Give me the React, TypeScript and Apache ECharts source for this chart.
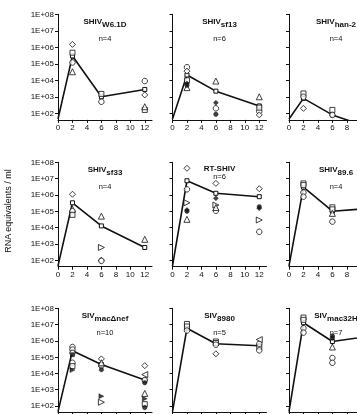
import React, { useEffect, useRef } from "react";
import * as echarts from "echarts";

// Sampling weeks post infection and axis ticks
const WEEKS = [0, 2, 6, 12];
const X_TICKS = [0, 2, 4, 6, 8, 10, 12];
const Y_TICKS = [2, 3, 4, 5, 6, 7, 8]; // log10 of 1E+02 ... 1E+08
const LOG_MIN = 1.6;
const LOG_MAX = 8;
const X_MAX = 13;

// Panel titles (row by row)
const STRAIN = ["SHIV", "SHIV", "SHIV", "SHIV", "RT-SHIV", "SHIV", "SIV", "SIV", "SIV"];
const SUBSCRIPT = ["W6.1D", "sf13", "han-2", "sf33", "", "89.6", "mac\u0394nef", "8980", "mac32H"];
const GROUP_N = [4, 6, 4, 4, 6, 4, 10, 5, 7];

// Group means (RNA equivalents / ml) at weeks 0, 2, 6, 12
const MEAN_W61D = [45, 3.0e5, 1.0e3, 2.8e3];
const MEAN_SF13 = [45, 2.1e4, 2.2e3, 2.8e2];
const MEAN_HAN2 = [45, 8e2, 80, 10];
const MEAN_SF33 = [45, 3.3e5, 1.26e4, 6e2];
const MEAN_RT = [45, 7.4e6, 1.26e6, 7.8e5];
const MEAN_896 = [45, 3e6, 1e5, 1.6e5];
const MEAN_NEF = [45, 2.5e5, 3.5e4, 3.9e3];
const MEAN_8980 = [45, 6e6, 6.6e5, 5e5];
const MEAN_32H = [45, 1.3e7, 9.1e5, 2.2e6];

type Marker =
  | "circle" | "square" | "diamond" | "triangle" | "rightTri" | "leftTri"
  | "dot" | "solidDiamond" | "solidRightTri" | "solidSquare";
type Pts = Partial<Record<Marker, number[][]>>;

// Individual animals: [week, RNA equivalents / ml]
const PTS_W61D: Pts = {
  diamond: [[2, 1.5e6], [12, 1.3e3]],
  square: [[2, 4.7e5], [6, 1.5e3], [12, 1.6e2]],
  circle: [[2, 1.2e5], [6, 5e2], [12, 9e3]],
  triangle: [[2, 3.3e4], [12, 2.5e2]],
};
const PTS_SF13: Pts = {
  circle: [[2, 6.2e4], [6, 2e2], [12, 1.3e2]],
  diamond: [[2, 3.6e4], [12, 80]],
  square: [[2, 1e4], [12, 2.2e2]],
  triangle: [[2, 3.6e3], [6, 9e3], [12, 1e3]],
  dot: [[2, 5e3], [6, 87]],
  solidDiamond: [[2, 6.5e3], [6, 4.4e2]],
};
const PTS_HAN2: Pts = {
  square: [[2, 1.6e3], [6, 1.6e2]],
  circle: [[2, 1e3], [6, 80]],
  diamond: [[2, 2e2]],
};
const PTS_SF33: Pts = {
  diamond: [[2, 1.1e6], [6, 1e2]],
  triangle: [[2, 1.35e5], [6, 5e4], [12, 1.9e3]],
  circle: [[2, 1e5], [6, 90]],
  square: [[2, 6e4]],
  rightTri: [[6, 6e2]],
};
const PTS_RT: Pts = {
  diamond: [[2, 4.3e7], [6, 5.1e6], [12, 2.4e6]],
  circle: [[2, 2.2e6], [6, 1.07e5], [12, 5.5e3]],
  rightTri: [[2, 3.3e5], [6, 2.4e5], [12, 2.9e4]],
  triangle: [[2, 3.2e4], [6, 1.7e5]],
  dot: [[2, 1e5], [12, 1.9e5]],
  solidDiamond: [[2, 1.2e5], [6, 6.2e5], [12, 1.5e5]],
};
const PTS_896: Pts = {
  square: [[2, 5.1e6], [2, 4e6], [6, 1.74e5], [6, 1.3e5]],
  circle: [[2, 1.4e6], [2, 7.8e5], [6, 2.3e4]],
  triangle: [[6, 7.4e4]],
};
const PTS_NEF: Pts = {
  circle: [[2, 4.2e5], [2, 2.9e5], [2, 1.8e5], [2, 4.5e4], [6, 3e4], [12, 3.9e3]],
  solidSquare: [[2, 1.4e5]],
  square: [[2, 2.8e4], [12, 1.3e2]],
  solidRightTri: [[2, 1.6e4], [6, 4e2], [12, 2.8e2]],
  diamond: [[6, 7.8e4], [12, 3e4]],
  triangle: [[6, 4.5e4], [12, 5.9e2]],
  dot: [[6, 1.7e4], [12, 2.7e3], [12, 80]],
  rightTri: [[6, 1.7e2]],
  leftTri: [[12, 8.5e3]],
};
const PTS_8980: Pts = {
  square: [[2, 1.1e7], [2, 7.6e6], [6, 9.1e5], [6, 7.4e5], [12, 4.2e5]],
  circle: [[2, 4.3e6], [6, 5.8e5], [12, 6.6e5], [12, 2.6e5]],
  diamond: [[6, 1.6e5]],
  leftTri: [[12, 1.2e6]],
};
const PTS_32H: Pts = {
  square: [[2, 2.7e7], [2, 1.95e7]],
  circle: [[2, 6e6], [2, 3.2e6], [6, 8.9e4], [6, 4.5e4]],
  dot: [[6, 2e6], [6, 1.5e6]],
  triangle: [[6, 4.2e5]],
};

const MEANS = [MEAN_W61D, MEAN_SF13, MEAN_HAN2, MEAN_SF33, MEAN_RT, MEAN_896, MEAN_NEF, MEAN_8980, MEAN_32H];
const POINTS = [PTS_W61D, PTS_SF13, PTS_HAN2, PTS_SF33, PTS_RT, PTS_896, PTS_NEF, PTS_8980, PTS_32H];

const INK = "#111";
const FONT = "'Liberation Sans', Arial, Helvetica, sans-serif";

const MARKERS: Record<Marker, { symbol: string; size: number; rotate?: number; filled?: boolean }> = {
  circle: { symbol: "circle", size: 5.5 },
  square: { symbol: "rect", size: 5 },
  diamond: { symbol: "diamond", size: 6 },
  triangle: { symbol: "triangle", size: 6 },
  rightTri: { symbol: "triangle", size: 6, rotate: -90 },
  leftTri: { symbol: "triangle", size: 6, rotate: 90 },
  dot: { symbol: "circle", size: 4.5, filled: true },
  solidDiamond: { symbol: "diamond", size: 5, filled: true },
  solidRightTri: { symbol: "triangle", size: 5, rotate: -90, filled: true },
  solidSquare: { symbol: "rect", size: 4, filled: true },
};

// Panel layout
const COL_LEFT = [58, 172.5, 289];
const ROW_TOP = [14.3, 162.3, 308.3];
const ROW_H = [105.6, 104.4, 104.2];
const PANEL_W = 94;
const VIEW_W = 357;
const VIEW_H = 414;

function buildOption() {
  const grid: any[] = [];
  const xAxis: any[] = [];
  const yAxis: any[] = [];
  const title: any[] = [];
  const series: any[] = [];

  for (let i = 0; i < 9; i++) {
    const r = Math.floor(i / 3);
    const c = i % 3;
    const left = COL_LEFT[c];
    const top = ROW_TOP[r];
    const height = ROW_H[r];
    const pxPerWeek = PANEL_W / X_MAX;
    // tick labels that fall inside the visible area
    const xLabels = X_TICKS.filter((t) => left + t * pxPerWeek + 4 < VIEW_W);
    const xLabelsVisible = top + height + 12 < VIEW_H;

    grid.push({ left, top, width: PANEL_W, height, containLabel: false, outerBoundsMode: "none" });

    xAxis.push({
      type: "value",
      gridIndex: i,
      min: 0,
      max: X_MAX,
      axisLine: { show: true, lineStyle: { color: INK, width: 1 } },
      axisTick: { show: true, length: 3, customValues: X_TICKS, lineStyle: { color: INK } },
      axisLabel: {
        show: xLabelsVisible,
        customValues: xLabels,
        margin: 4,
        fontSize: 8,
        color: INK,
        fontFamily: FONT,
      },
      splitLine: { show: false },
    });
    yAxis.push({
      type: "value",
      gridIndex: i,
      min: LOG_MIN,
      max: LOG_MAX,
      axisLine: { show: true, lineStyle: { color: INK, width: 1 } },
      axisTick: { show: true, length: 3, customValues: Y_TICKS, lineStyle: { color: INK } },
      axisLabel: {
        show: c === 0,
        customValues: Y_TICKS,
        margin: 4,
        fontSize: 8,
        color: INK,
        fontFamily: FONT,
        formatter: (v: number) => "1E+" + String(Math.round(v)).padStart(2, "0"),
      },
      splitLine: { show: false },
    });

    const sub = SUBSCRIPT[i];
    title.push({
      left: left + PANEL_W / 2,
      top: top + (sub ? 2.4 : 1),
      textAlign: "center",
      padding: 0,
      itemGap: sub ? 3 : 1,
      text: sub ? `{m|${STRAIN[i]}}{s|${sub}}` : `{m|${STRAIN[i]}}`,
      subtext: `n=${GROUP_N[i]}`,
      textStyle: {
        color: INK,
        fontWeight: "bold",
        fontSize: 8,
        fontFamily: FONT,
        rich: {
          m: { fontSize: 8, fontWeight: "bold", fontFamily: FONT, color: INK, lineHeight: 10 },
          s: { fontSize: 8, fontWeight: "bold", fontFamily: FONT, color: INK, lineHeight: 10, padding: [6, 0, 0, 0] },
        },
      },
      subtextStyle: { color: INK, fontSize: 7.5, fontWeight: "normal", fontFamily: FONT, lineHeight: 9 },
    });

    const mean = MEANS[i];
    series.push({
      type: "line",
      xAxisIndex: i,
      yAxisIndex: i,
      data: WEEKS.map((w, k) => ({
        value: [w, Math.log10(mean[k])],
        symbol: k === 0 ? "none" : "rect",
      })),
      symbolSize: 4,
      itemStyle: { color: "#fff", borderColor: INK, borderWidth: 1 },
      lineStyle: { color: INK, width: 1.6 },
      clip: true,
      z: 2,
    });

    const pts = POINTS[i];
    (Object.keys(pts) as Marker[]).forEach((m) => {
      const st = MARKERS[m];
      series.push({
        type: "scatter",
        xAxisIndex: i,
        yAxisIndex: i,
        symbol: st.symbol,
        symbolSize: st.size,
        symbolRotate: st.rotate || 0,
        data: (pts[m] || []).map(([w, v]) => [w, Math.log10(v)]),
        itemStyle: st.filled
          ? { color: INK, borderColor: INK, borderWidth: 0.5 }
          : { color: "#fff", borderColor: INK, borderWidth: 1 },
        z: 3,
      });
    });
  }

  return {
    animation: false,
    backgroundColor: "#fff",
    grid,
    xAxis,
    yAxis,
    title,
    series,
    graphic: [
      {
        type: "text",
        x: 8,
        y: 211,
        rotation: Math.PI / 2,
        style: {
          text: "RNA equivalents / ml",
          font: `9px ${FONT}`,
          fill: INK,
          align: "center",
          verticalAlign: "middle",
        },
      },
    ],
  };
}

export default function App() {
  const ref = useRef<HTMLDivElement>(null);
  useEffect(() => {
    document.body.style.margin = "0";
    const chart = echarts.init(ref.current!, undefined, { renderer: "svg" });
    chart.setOption(buildOption() as any);
    return () => chart.dispose();
  }, []);
  // black-and-white figure: render text with grayscale smoothing
  return (
    <div
      ref={ref}
      style={{ width: VIEW_W, height: VIEW_H, overflow: "hidden", filter: "grayscale(1)" }}
    />
  );
}
